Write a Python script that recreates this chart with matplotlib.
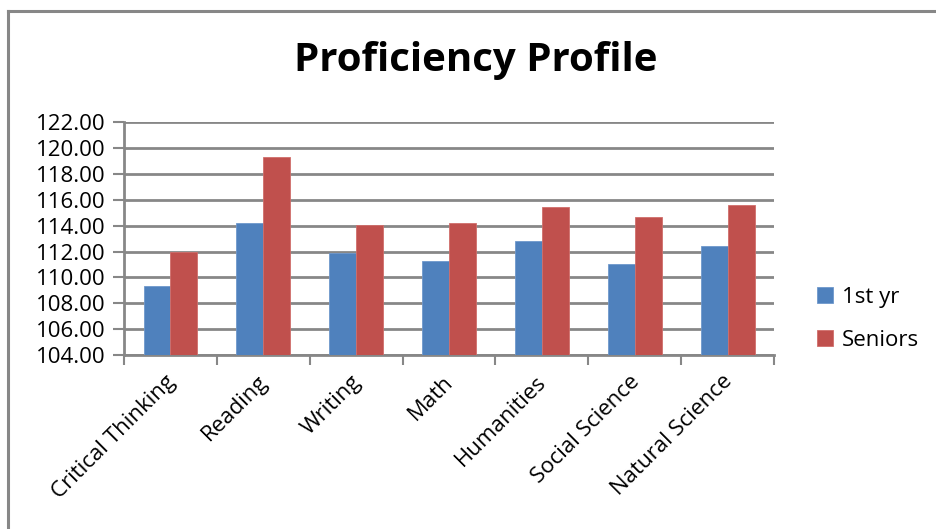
import numpy as np
import matplotlib
matplotlib.use("Agg")
import matplotlib.pyplot as plt
from matplotlib.lines import Line2D

categories = ['Critical Thinking', 'Reading', 'Writing', 'Math',
              'Humanities', 'Social Science', 'Natural Science']
first_yr = [109.3, 114.2, 111.9, 111.3, 112.8, 111.0, 112.4]
seniors = [112.0, 119.3, 114.05, 114.2, 115.45, 114.65, 115.6]
yticks = np.arange(104, 123, 2)

plt.rcParams['font.family'] = ['Open Sans', 'DejaVu Sans']

fig = plt.figure(figsize=(9.36, 5.29), dpi=100)
ax = fig.add_axes([0.1325, 0.329, 0.6945, 0.440])

x = np.arange(len(categories))
w = 0.29
ax.bar(x - w / 2, [v - 104 for v in first_yr], w, bottom=104, color='#4F81BD',
       edgecolor='#6f98cc', linewidth=0.6, label='1st yr', zorder=3)
ax.bar(x + w / 2, [v - 104 for v in seniors], w, bottom=104, color='#C0504D',
       edgecolor='#d06e6b', linewidth=0.6, label='Seniors', zorder=3)

ax.set_xlim(-0.5, len(categories) - 0.5)
ax.set_ylim(104, 122)
ax.set_yticks(yticks)
ax.set_yticklabels(['%.2f' % t for t in yticks], fontsize=16)
ax.yaxis.grid(True, color='#878787', linewidth=2, zorder=0)
ax.set_axisbelow(True)

# category boundaries get the x tick marks
ax.set_xticks(np.arange(-0.5, len(categories), 1.0))
ax.set_xticklabels([])
ax.tick_params(axis='x', length=7, width=1.5, color='#878787', direction='out')
ax.tick_params(axis='y', length=8, width=1.5, color='#878787', direction='out', pad=5)
for i, c in enumerate(categories):
    ax.annotate(c, xy=(i, 104), xycoords='data', xytext=(1, -17),
                textcoords='offset points', rotation=45, rotation_mode='anchor',
                ha='right', va='center', fontsize=16)

for s in ['top', 'right']:
    ax.spines[s].set_visible(False)
for s in ['left', 'bottom']:
    ax.spines[s].set_color('#878787')
    ax.spines[s].set_linewidth(2)

leg = fig.legend(loc='upper left', bbox_to_anchor=(0.851, 0.496), frameon=False,
                 fontsize=16, handlelength=0.75, handleheight=0.75,
                 handletextpad=0.4, labelspacing=1.0)

fig.text(0.508, 0.885, 'Proficiency Profile', ha='center', va='center',
         fontsize=29, fontweight='bold')

# chart frame (top and left edges visible)
fig.add_artist(Line2D([8 / 936, 1.0], [1 - 11 / 529, 1 - 11 / 529],
                      transform=fig.transFigure, color='#878787', linewidth=2.2))
fig.add_artist(Line2D([8 / 936, 8 / 936], [0, 1 - 11 / 529],
                      transform=fig.transFigure, color='#878787', linewidth=2.2))

fig.savefig('out.png', dpi=100)
